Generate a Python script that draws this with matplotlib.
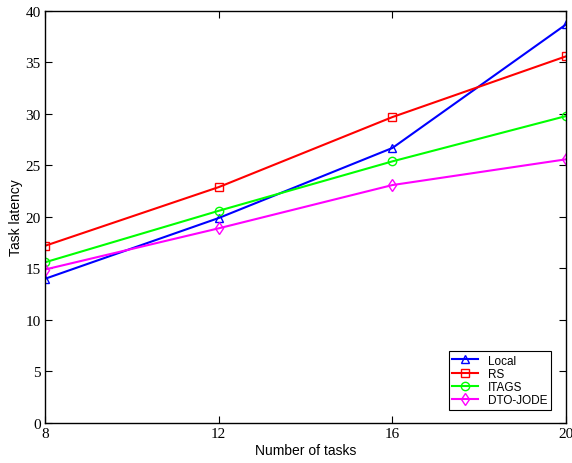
import numpy as np
from matplotlib import pyplot as plt

# data
tasks = [8, 12, 16, 20]
local = [14.0, 19.9, 26.7, 38.7]
rs = [17.2, 22.9, 29.7, 35.6]
itags = [15.6, 20.6, 25.4, 29.8]
dto_jode = [14.9, 18.9, 23.1, 25.6]

fig = plt.figure(figsize=(5.72, 4.64), dpi=100)
ax = fig.add_axes([0.0787, 0.0862, 0.911, 0.888])

ax.plot(tasks, local, color='#0000ff', marker='^', mfc='none', ms=6, lw=1.5, label='Local')
ax.plot(tasks, rs, color='#ff0000', marker='s', mfc='none', ms=6, lw=1.5, label='RS')
ax.plot(tasks, itags, color='#00ff00', marker='o', mfc='none', ms=6, lw=1.5, label='ITAGS')
ax.plot(tasks, dto_jode, color='#ff00ff', marker='d', mfc='none', ms=6, lw=1.5, label='DTO-JODE')

ax.set_xlim(8, 20)
ax.set_ylim(0, 40)
ax.set_xticks(tasks)
ax.set_yticks(np.arange(0, 41, 5))
ax.tick_params(direction='in', top=True, right=True, length=5, width=0.8,
               labelsize=11, pad=3)
for lbl in ax.get_xticklabels() + ax.get_yticklabels():
    lbl.set_family('Liberation Serif')
for sp in ax.spines.values():
    sp.set_linewidth(1.0)

ax.set_xlabel('Number of tasks', family='Liberation Sans', fontsize=10, labelpad=2)
ax.set_ylabel('Task latency', family='Liberation Sans', fontsize=10, labelpad=2)

leg = ax.legend(loc='lower right', bbox_to_anchor=(0.982, 0.018),
                prop={'family': 'Liberation Sans', 'size': 8.5},
                fancybox=False, edgecolor='black', framealpha=1,
                handlelength=2.2, labelspacing=0.1, borderpad=0.3)
leg.get_frame().set_linewidth(0.8)

fig.savefig('out.png', dpi=100)
